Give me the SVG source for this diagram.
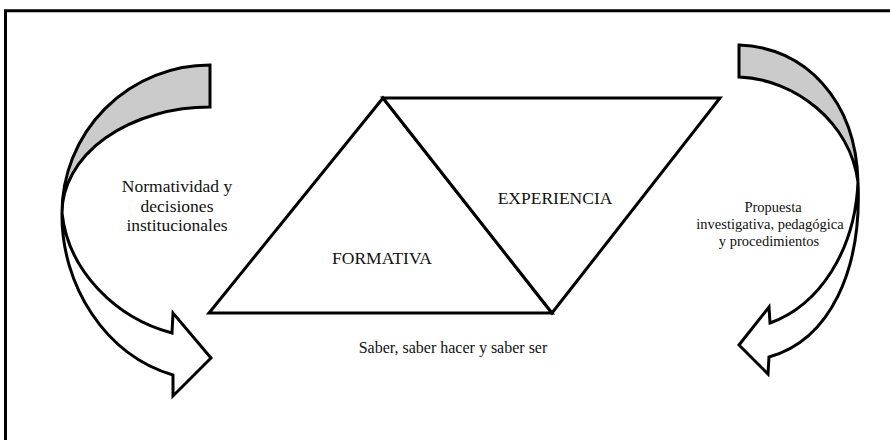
<svg xmlns="http://www.w3.org/2000/svg" width="890" height="440" viewBox="0 0 890 440">
  <style>
    .line { fill: none; stroke: #000; stroke-width: 3; stroke-linejoin: miter; }
    .shape { fill: #fff; stroke: #000; stroke-width: 3; stroke-linejoin: miter; }
    .back { fill: #cbcbcb; stroke: #000; stroke-width: 3; stroke-linejoin: miter; }
    .label { font-family: "Liberation Serif", "Times New Roman", serif; font-size: 16px; fill: #111; text-anchor: middle; }
    .big { font-size: 17.5px; }
    .small { font-size: 14.5px; }
  </style>

  <rect x="0" y="0" width="890" height="440" fill="#fff"/>

  <!-- outer frame (top and left edges) -->
  <path class="line" d="M5.5,440 V10.7 H890"/>

  <!-- curved ribbon arrows -->
  <g id="connectors">
    <g id="arrow-left">
      <path class="back" d="M210,65 A148,148 0 0 0 62,213 A148,106 0 0 1 210,107 Z"/>
      <path class="shape" d="M62,213 C68,270 115,318 172,333 L173,313 L211,358 L173,396 L173,375 C105,355 61,285 62,213 Z"/>
    </g>
    <g id="arrow-right">
      <path class="back" d="M739,45 C805,47 856,100 858,182 C850,122 795,79 739,77 Z"/>
      <path class="shape" d="M858,182 C862,270 830,340 769,357 L768,374 L739,345 L769,307 L770,323 C820,305 855,250 858,182 Z"/>
    </g>
  </g>

  <!-- central parallelogram split in two triangles -->
  <g id="formativa">
    <path class="shape" d="M209,313 L383,98 L552,313 Z"/>
    <text class="label big" x="382" y="264">FORMATIVA</text>
  </g>
  <g id="experiencia">
    <path class="shape" d="M383,98 L720,98 L552,313 Z"/>
    <text class="label big" x="555" y="204">EXPERIENCIA</text>
  </g>

  <g id="normatividad">
    <text class="label big" x="177" y="192">Normatividad y</text>
    <text class="label big" x="177" y="212">decisiones</text>
    <text class="label big" x="177" y="231">institucionales</text>
  </g>

  <g id="propuesta">
    <text class="label small" x="773" y="212">Propuesta</text>
    <text class="label small" x="770" y="229">investigativa, pedagógica</text>
    <text class="label small" x="769" y="246">y procedimientos</text>
  </g>

  <g id="saber">
    <text class="label" x="453" y="353">Saber, saber hacer y saber ser</text>
  </g>
</svg>
